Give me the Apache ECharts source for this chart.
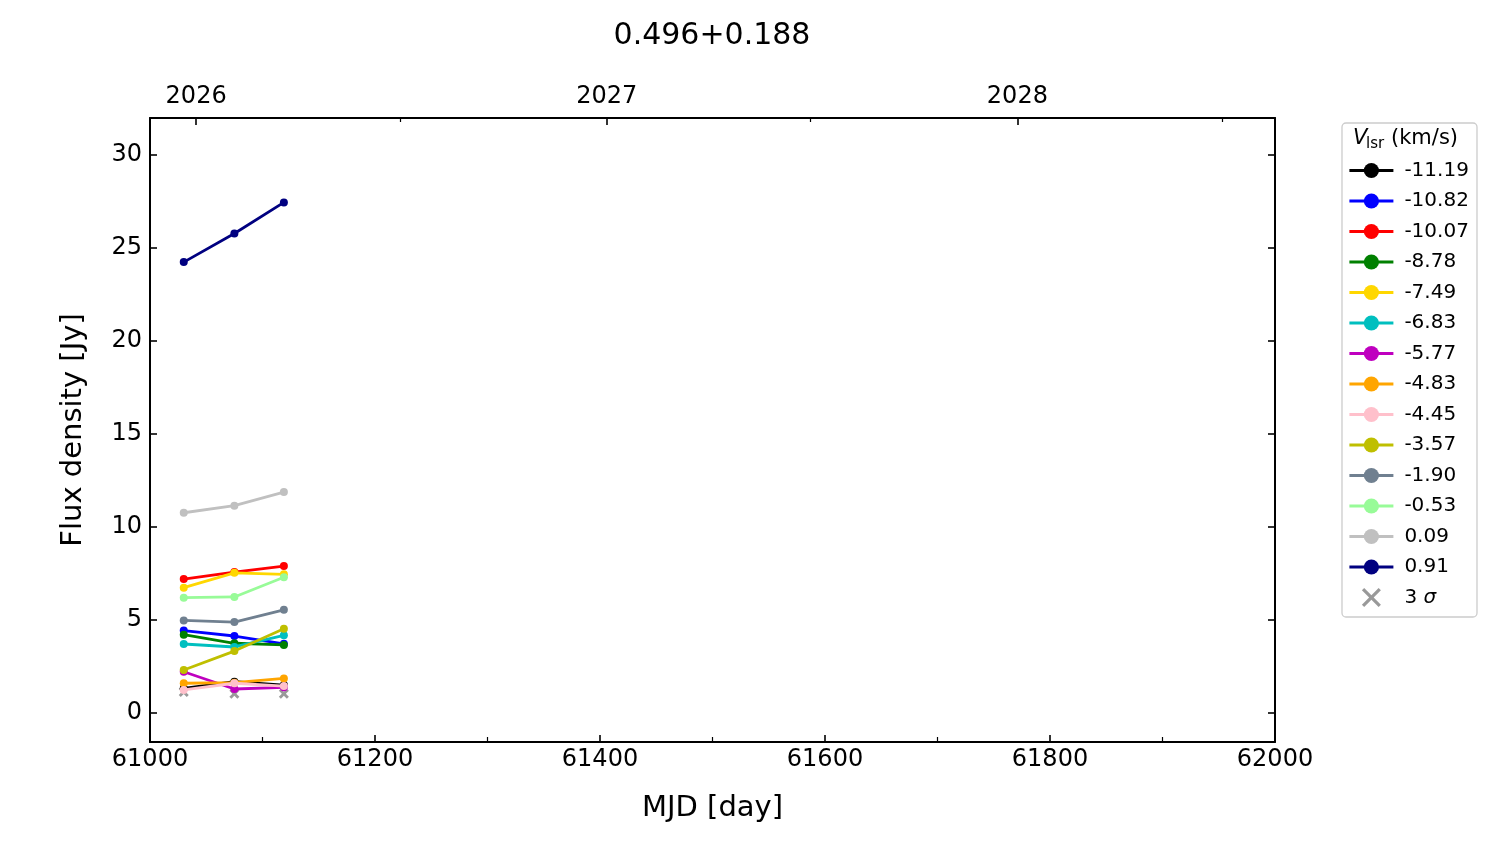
<!DOCTYPE html>
<html>
<head>
<meta charset="utf-8">
<script src="https://cdn.jsdelivr.net/npm/echarts@6/dist/echarts.min.js"></script>
<style>
html,body{margin:0;padding:0;background:#fff;}
#chart{width:1500px;height:844px;}
</style>
</head>
<body>
<div id="chart"></div>
<script>
// ---- data ----
const mjd = [61030, 61075, 61119];
const seriesNames = ['-11.19','-10.82','-10.07','-8.78','-7.49','-6.83','-5.77','-4.83','-4.45','-3.57','-1.90','-0.53','0.09','0.91'];
const seriesColors = ['#000000','#0000ff','#ff0000','#008000','#ffd700','#00bfbf','#bf00bf','#ffa500','#ffc0cb','#bfbf00','#708090','#98fb98','#c0c0c0','#000080'];
const v_m11_19 = [1.33, 1.68, 1.50];
const v_m10_82 = [4.43, 4.14, 3.72];
const v_m10_07 = [7.20, 7.58, 7.90];
const v_m8_78  = [4.21, 3.75, 3.66];
const v_m7_49  = [6.74, 7.54, 7.46];
const v_m6_83  = [3.71, 3.55, 4.18];
const v_m5_77  = [2.22, 1.29, 1.38];
const v_m4_83  = [1.60, 1.63, 1.86];
const v_m4_45  = [1.24, 1.60, 1.45];
const v_m3_57  = [2.31, 3.33, 4.53];
const v_m1_90  = [4.98, 4.89, 5.55];
const v_m0_53  = [6.20, 6.24, 7.30];
const v_0_09   = [10.77, 11.15, 11.88];
const v_0_91   = [24.25, 25.79, 27.46];
const sigma3   = [1.13, 1.04, 1.04];
const seriesValues = [v_m11_19, v_m10_82, v_m10_07, v_m8_78, v_m7_49, v_m6_83, v_m5_77, v_m4_83, v_m4_45, v_m3_57, v_m1_90, v_m0_53, v_0_09, v_0_91];

const yTicks = [0, 5, 10, 15, 20, 25, 30];
const yearTickMjd = [61041, 61406, 61771];
const yearLabels = ['2026', '2027', '2028'];
const halfYearMjd = [61222, 61587, 61953];

// ---- chart ----
const FONT = 'DejaVu Sans';
const chart = echarts.init(document.getElementById('chart'), null, {renderer: 'canvas'});

const pairs = arr => mjd.map((x, i) => [x, arr[i]]);

const LW = 2.8;
const series = seriesNames.map((n, i) => ({
  name: n,
  type: 'line',
  data: pairs(seriesValues[i]),
  symbol: 'circle',
  symbolSize: 8,
  showSymbol: true,
  lineStyle: {width: LW, color: seriesColors[i]},
  itemStyle: {color: seriesColors[i]},
  emphasis: {disabled: true},
  z: 3 + i * 0.01
}));
const xPathPlot = 'path://M0,2 L2,0 L5,3 L8,0 L10,2 L7,5 L10,8 L8,10 L5,7 L2,10 L0,8 L3,5 Z';
const xPathLegend = 'path://M0,1.2 L1.2,0 L5,3.8 L8.8,0 L10,1.2 L6.2,5 L10,8.8 L8.8,10 L5,6.2 L1.2,10 L0,8.8 L3.8,5 Z';
series.push({
  name: '3 σ',
  type: 'scatter',
  data: pairs(sigma3),
  symbol: xPathPlot,
  symbolSize: 10,
  itemStyle: {color: '#808080'},
  emphasis: {disabled: true},
  z: 2
});

const axisLine = {show: true, onZero: false, lineStyle: {color: '#000', width: 2}};

const option = {
  animation: false,
  backgroundColor: '#fff',
  title: {
    text: '0.496+0.188',
    left: 712, top: 21, padding: 0,
    textAlign: 'center',
    textStyle: {fontFamily: FONT, fontSize: 30, fontWeight: 'normal', color: '#000'}
  },
  grid: {left: 150, right: 225, top: 118, bottom: 102, containLabel: false},
  xAxis: [
    {
      type: 'value', position: 'bottom', min: 61000, max: 62000, interval: 200,
      name: 'MJD [day]', nameLocation: 'middle', nameGap: 52,
      nameTextStyle: {fontFamily: FONT, fontSize: 29, color: '#000'},
      axisLine: axisLine,
      axisTick: {show: true, inside: true, length: 7, lineStyle: {color: '#000', width: 1.6}},
      minorTick: {show: true, splitNumber: 2, length: 5, lineStyle: {color: '#000', width: 1.2}},
      axisLabel: {fontFamily: FONT, fontSize: 24, color: '#000', margin: 6, formatter: v => String(v)},
      splitLine: {show: false}, minorSplitLine: {show: false}
    },
    {
      type: 'value', position: 'top', min: 61000, max: 62000,
      axisLine: axisLine,
      axisTick: {show: true, inside: true, length: 7, customValues: yearTickMjd, lineStyle: {color: '#000', width: 1.6}},
      axisLabel: {
        fontFamily: FONT, fontSize: 24, color: '#000', margin: 9,
        customValues: yearTickMjd,
        formatter: v => yearLabels[yearTickMjd.indexOf(Math.round(v))] || ''
      },
      splitLine: {show: false}
    },
    {
      type: 'value', position: 'top', min: 61000, max: 62000,
      axisLine: {show: false, onZero: false},
      axisTick: {show: true, inside: true, length: 4, customValues: halfYearMjd, lineStyle: {color: '#000', width: 1.2}},
      axisLabel: {show: false},
      splitLine: {show: false}
    }
  ],
  yAxis: [
    {
      type: 'value', position: 'left', min: -1.56, max: 32,
      name: 'Flux density [Jy]', nameLocation: 'middle', nameGap: 62, nameRotate: 90,
      nameTextStyle: {fontFamily: FONT, fontSize: 29, color: '#000'},
      axisLine: axisLine,
      axisTick: {show: true, inside: true, length: 7, customValues: yTicks, lineStyle: {color: '#000', width: 1.6}},
      axisLabel: {fontFamily: FONT, fontSize: 24, color: '#000', margin: 8, customValues: yTicks},
      splitLine: {show: false}
    },
    {
      type: 'value', position: 'right', min: -1.56, max: 32,
      axisLine: axisLine,
      axisTick: {show: true, inside: true, length: 7, customValues: yTicks, lineStyle: {color: '#000', width: 1.6}},
      axisLabel: {show: false},
      splitLine: {show: false}
    }
  ],
  legend: {
    orient: 'vertical',
    left: 1348, top: 160.5,
    padding: 0,
    itemWidth: 44, itemHeight: 19, itemGap: 10.5,
    selectedMode: false,
    lineStyle: {width: LW},
    data: seriesNames.map(n => ({name: n})).concat([{name: '3 σ', icon: xPathLegend}]),
    formatter: n => n === '3 σ' ? '3 {i|σ}' : n,
    textStyle: {
      fontFamily: FONT, fontSize: 20, color: '#000', lineHeight: 19, height: 19, padding: [0, 0, 0, 6],
      rich: {i: {fontFamily: FONT, fontSize: 20, fontStyle: 'italic', color: '#000'}}
    }
  },
  graphic: [
    {type: 'rect', shape: {x: 1342, y: 123, width: 135, height: 494, r: 4},
     style: {fill: '#fff', stroke: '#cccccc', lineWidth: 1.3}, z: -1, silent: true},
    {type: 'text', x: 1353, y: 139, style: {text: 'V', fontFamily: FONT, fontSize: 21, fontStyle: 'italic', fill: '#000', textVerticalAlign: 'middle'}},
    {type: 'text', x: 1366, y: 144, style: {text: 'lsr', fontFamily: FONT, fontSize: 15, fill: '#000', textVerticalAlign: 'middle'}},
    {type: 'text', x: 1391, y: 139, style: {text: '(km/s)', fontFamily: FONT, fontSize: 21, fill: '#000', textVerticalAlign: 'middle'}}
  ],
  series: series
};
chart.setOption(option);
</script>
</body>
</html>
